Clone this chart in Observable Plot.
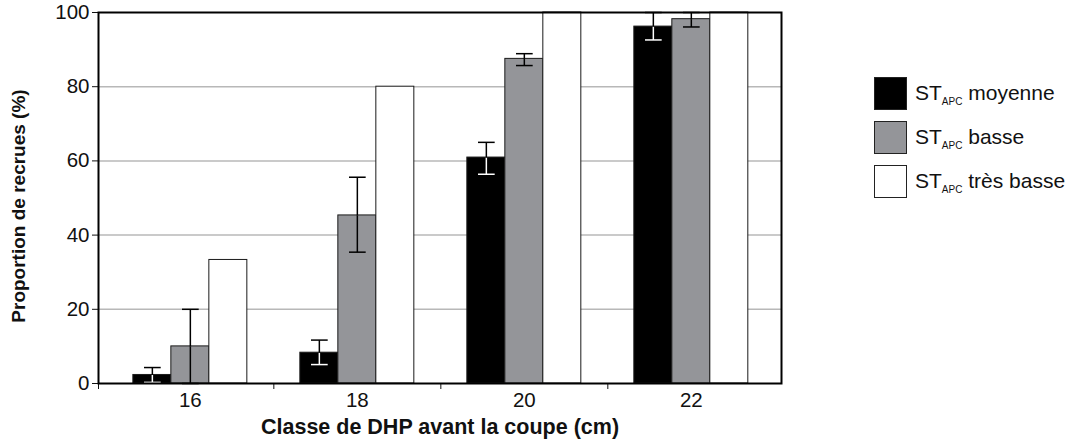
<!DOCTYPE html>
<html lang="fr">
<head>
<meta charset="utf-8">
<script src="https://cdn.jsdelivr.net/npm/d3@7"></script>
<script src="https://cdn.jsdelivr.net/npm/@observablehq/plot@0.6"></script>
<style>
  html, body { margin: 0; padding: 0; background: #fff; }
  #chart { position: relative; width: 1079px; height: 441px; font-family: "Liberation Sans", Arial, Helvetica, sans-serif; }
  #legend { position: absolute; left: 874px; top: 77px; color: #111; font-size: 21px; }
  #legend .row { display: flex; align-items: center; height: 33px; margin-bottom: 11px; white-space: nowrap; }
  #legend .sw { width: 31px; height: 31px; border: 1px solid #222; margin-right: 8px; flex: none; }
  #legend sub { font-size: 10px; vertical-align: -5px; }
</style>
</head>
<body>
<div id="chart"><div id="legend"></div></div>
<script>
// DHP classes before cutting (cm)
const dhpClasses = [16, 18, 20, 22];
// Residual stand density categories (ST_APC)
const seriesNames = ["moyenne", "basse", "très basse"];
const seriesColors = ["#000000", "#949599", "#ffffff"];

// Proportion of recruits (%) with error bar bounds
const moyenne     = [2.3, 8.3, 60.9, 96.2];
const moyenneLow  = [0.3, 5.1, 56.4, 92.6];
const moyenneHigh = [4.3, 11.7, 65.0, 100];

const basse     = [10, 45.3, 87.5, 98.2];
const basseLow  = [0, 35.4, 85.7, 96.1];
const basseHigh = [20, 55.6, 88.9, 100];

const tresBasse = [33.3, 80, 100, 100];

const yTicks = [0, 20, 40, 60, 80, 100];

// Layout: width of one bar in x units, half width of an error-bar cap
const barWidth = 0.455;
const capHalf = 0.1;

const values = [moyenne, basse, tresBasse];
const lows = [moyenneLow, basseLow, null];
const highs = [moyenneHigh, basseHigh, null];

const bars = [];
const errs = [];
seriesNames.forEach((name, i) => {
  dhpClasses.forEach((dhp, j) => {
    const cx = dhp + (i - 1) * barWidth;
    bars.push({series: name, dhp, value: values[i][j], x1: cx - barWidth / 2, x2: cx + barWidth / 2});
    if (lows[i]) {
      errs.push({series: name, cx, value: values[i][j], lo: lows[i][j], hi: highs[i][j],
                 inner: i === 0 ? "#ffffff" : "#000000"});
    }
  });
});

const plot = Plot.plot({
  width: 1079,
  height: 441,
  marginLeft: 98,
  marginRight: 298,
  marginTop: 12,
  marginBottom: 58,
  style: {fontFamily: "'Liberation Sans', Arial, Helvetica, sans-serif", fontSize: "20px", color: "#111", background: "#fff"},
  x: {domain: [14.9, 23.08]},
  y: {domain: [0, 100]},
  color: {domain: seriesNames, range: seriesColors},
  marks: [
    Plot.gridY(yTicks.filter(t => t > 0 && t < 100), {stroke: "#b8b8b8", strokeOpacity: 1, strokeWidth: 1.5}),
    Plot.rect(bars, {x1: "x1", x2: "x2", y1: 0, y2: "value", fill: "series", stroke: "#1a1a1a", strokeWidth: 1}),
    // error bar part inside the bar
    Plot.link(errs, {x1: "cx", x2: "cx", y1: "lo", y2: "value", stroke: "inner", strokeWidth: 1.5}),
    Plot.link(errs, {x1: d => d.cx - capHalf, x2: d => d.cx + capHalf, y1: "lo", y2: "lo", stroke: "inner", strokeWidth: 1.5}),
    // error bar part above the bar
    Plot.link(errs, {x1: "cx", x2: "cx", y1: "value", y2: "hi", stroke: "#000", strokeWidth: 1.5}),
    Plot.link(errs, {x1: d => d.cx - capHalf, x2: d => d.cx + capHalf, y1: "hi", y2: "hi", stroke: "#000", strokeWidth: 1.5}),
    Plot.axisY({ticks: yTicks, tickSize: 6, tickPadding: 3, label: null, fontSize: 20.5}),
    Plot.axisX({ticks: dhpClasses, tickSize: 0, tickPadding: 9, tickFormat: d => String(d), label: null, fontSize: 20.5}),
    Plot.axisX({ticks: [14.9, 17, 19, 21], tickSize: 6, tickFormat: () => "", label: null}),
    Plot.frame({stroke: "#000", strokeWidth: 2}),
    Plot.text(["Proportion de recrues (%)"], {frameAnchor: "left", textAnchor: "middle", dx: -80, dy: 8, rotate: -90, fontWeight: "bold", fontSize: 19, fill: "#111"}),
    Plot.text(["Classe de DHP avant la coupe (cm)"], {frameAnchor: "bottom", textAnchor: "middle", dy: 50, fontWeight: "bold", fontSize: 21.5, fill: "#111"})
  ]
});

const chart = document.getElementById("chart");
chart.insertBefore(plot, chart.firstChild);

const legend = document.getElementById("legend");
seriesNames.forEach((name, i) => {
  const row = document.createElement("div");
  row.className = "row";
  const sw = document.createElement("div");
  sw.className = "sw";
  sw.style.background = seriesColors[i];
  const label = document.createElement("span");
  label.innerHTML = "ST<sub>APC</sub> " + name;
  row.appendChild(sw);
  row.appendChild(label);
  legend.appendChild(row);
});
</script>
</body>
</html>
